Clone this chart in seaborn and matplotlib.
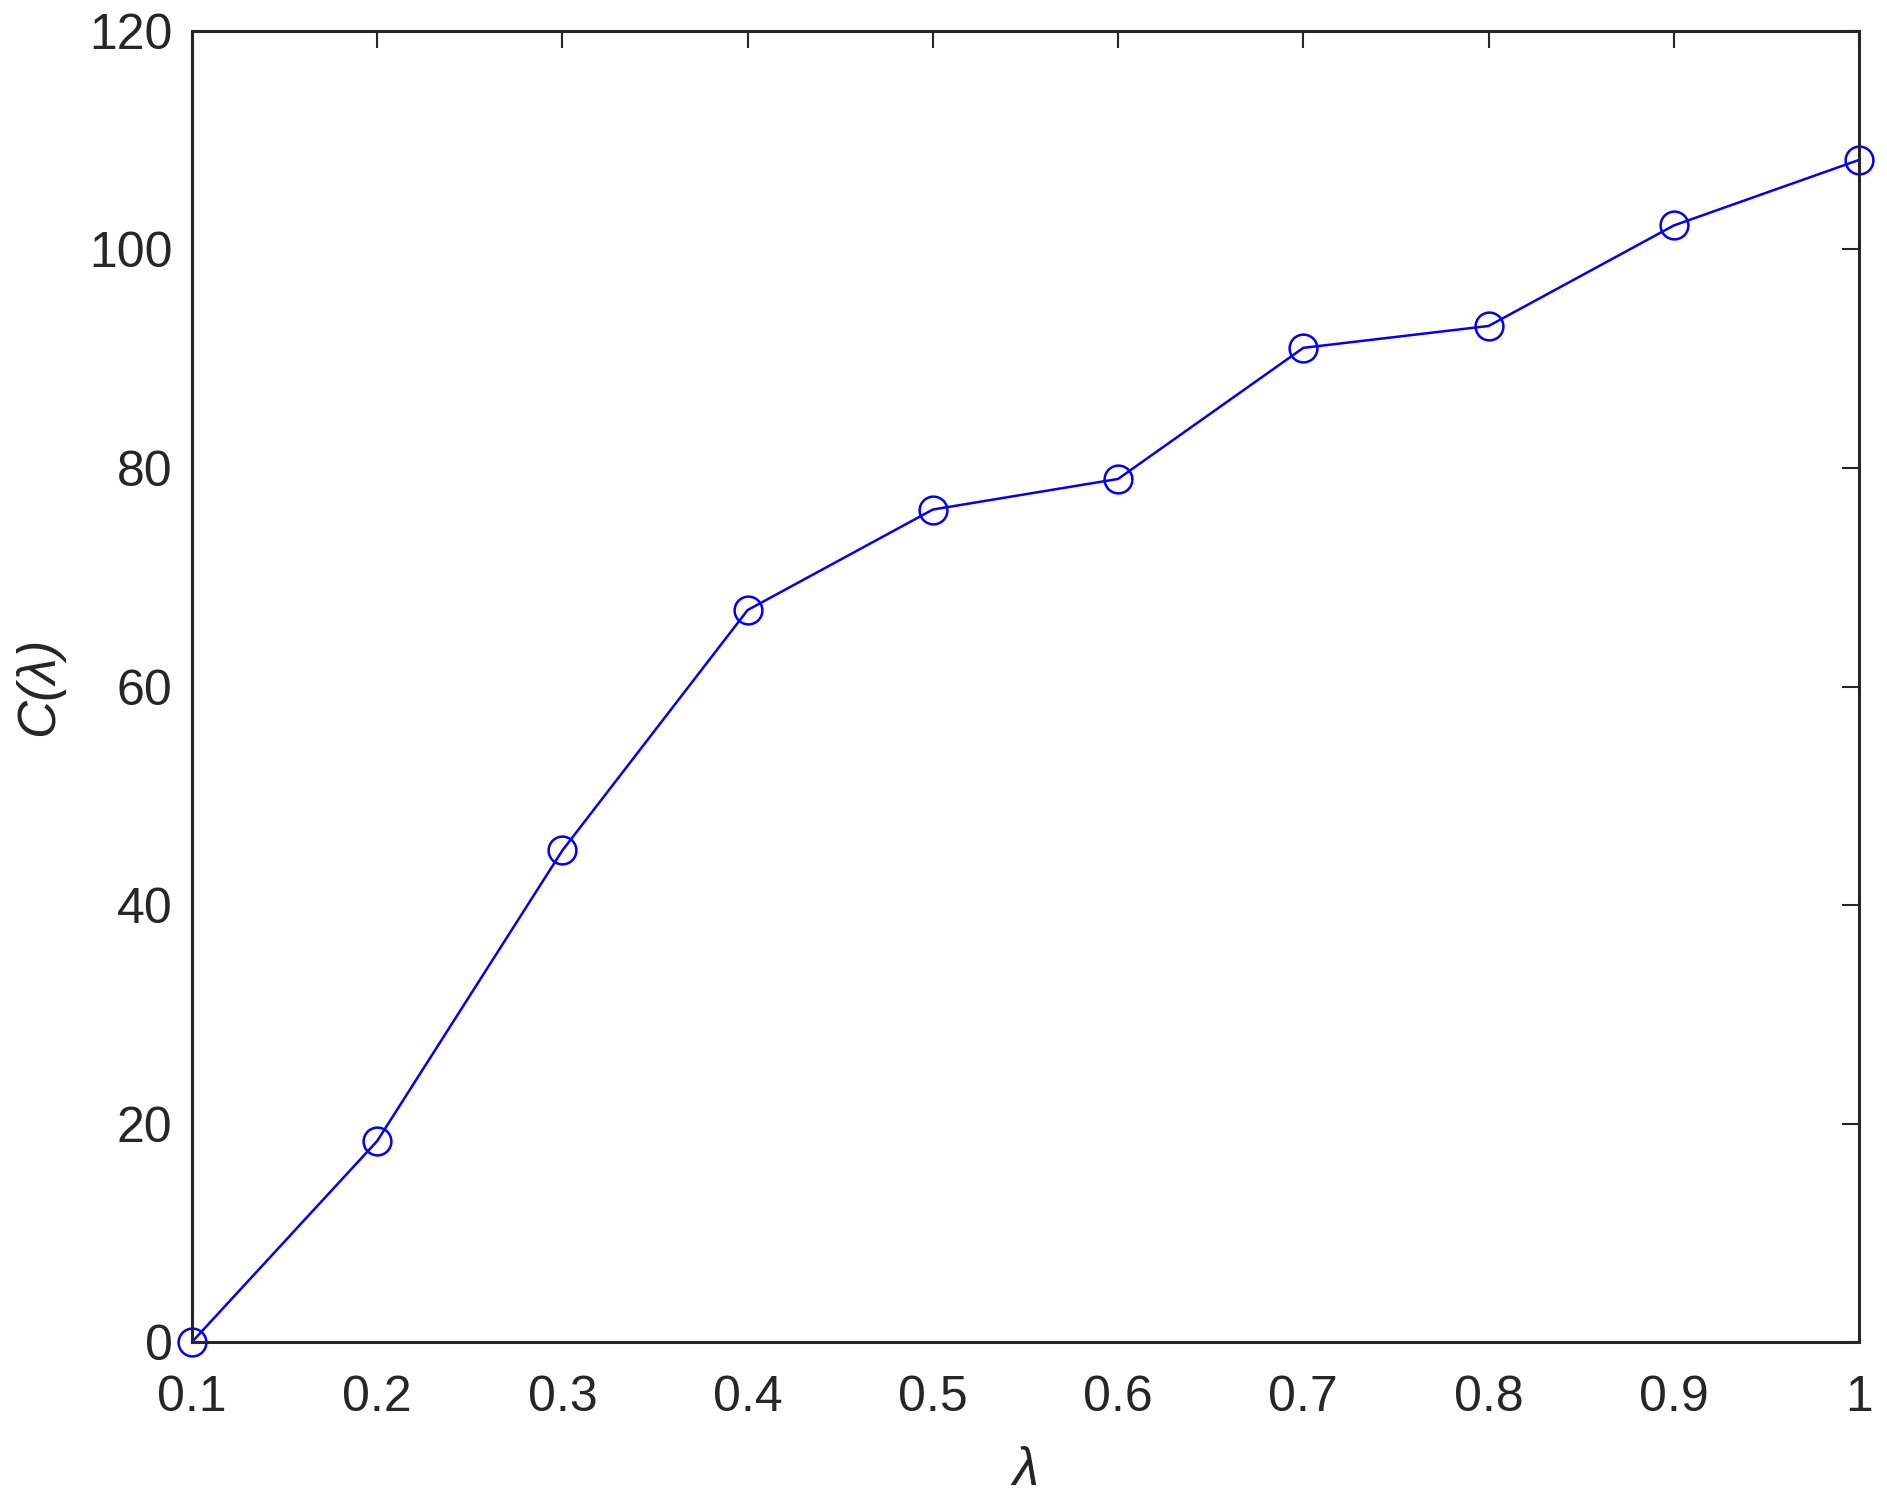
import pandas as pd
import matplotlib.pyplot as plt
import seaborn as sns

# ── Data ──────────────────────────────────────────
lam = [0.1, 0.2, 0.3, 0.4, 0.5, 0.6, 0.7, 0.8, 0.9, 1.0]
c_lam = [0, 18.4, 45, 67, 76.2, 79, 91, 93, 102.2, 108.2]
xticks = [0.1, 0.2, 0.3, 0.4, 0.5, 0.6, 0.7, 0.8, 0.9, 1.0]
xtick_labels = ['0.1', '0.2', '0.3', '0.4', '0.5', '0.6', '0.7', '0.8', '0.9', '1']
yticks = [0, 20, 40, 60, 80, 100, 120]

df = pd.DataFrame({'lam': lam, 'C': c_lam})

sns.set_style('white')
plt.rcParams['font.family'] = ['Liberation Sans', 'DejaVu Sans']

fig = plt.figure(figsize=(18.87, 15.11), dpi=100)
ax = fig.add_axes([0.1017, 0.1118, 0.8835, 0.8677])

sns.lineplot(data=df, x='lam', y='C', ax=ax, color='#0000ff', linewidth=1.8,
             marker='o', markersize=20, markerfacecolor='none',
             markeredgecolor='#0000ff', markeredgewidth=1.8, clip_on=False)

ax.set_xlim(0.1, 1.0)
ax.set_ylim(0, 120)
ax.set_xticks(xticks)
ax.set_xticklabels(xtick_labels)
ax.set_yticks(yticks)

for s in ax.spines.values():
    s.set_visible(True)
    s.set_color('#262626')
    s.set_linewidth(2.2)

ax.tick_params(direction='in', length=12, width=1.5, color='#262626',
               top=True, right=True, labelsize=36, labelcolor='#262626')
ax.tick_params(axis='x', pad=24)
ax.tick_params(axis='y', pad=14)

ax.set_xlabel('λ', fontsize=38, style='italic', color='#262626', labelpad=18)
ax.set_ylabel('C(λ)', fontsize=38, style='italic', color='#262626', labelpad=18)

fig.savefig('out.png', dpi=100, facecolor='white')
